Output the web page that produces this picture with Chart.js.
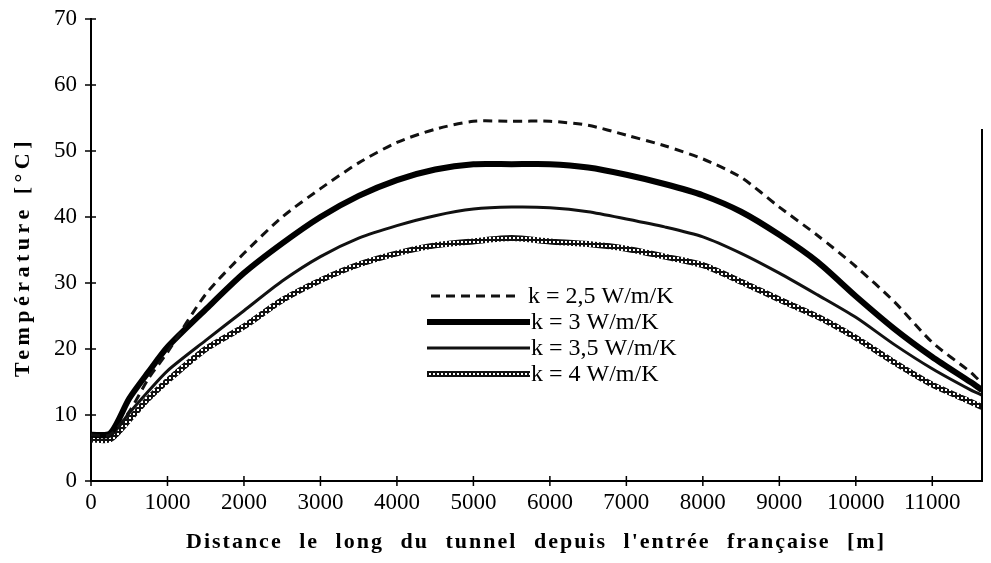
<!DOCTYPE html>
<html>
<head>
<meta charset="utf-8">
<script src="https://cdn.jsdelivr.net/npm/chart.js@4.4.0/dist/chart.umd.min.js"></script>
<style>
html,body{margin:0;padding:0;background:#fff;}
#wrap{width:991px;height:563px;}
</style>
</head>
<body>
<div id="wrap"><canvas id="myChart" width="991" height="563"></canvas></div>
<script>
// distance along the tunnel [m]
var distances = [0, 250, 500, 750, 1000, 1500, 2000, 2500, 3000, 3500, 4000, 4500, 5000, 5500, 6000, 6500, 7000, 7500, 8000, 8500, 9000, 9500, 10000, 10500, 11000, 11500, 11650];
// temperatures [°C]
var k25 = [7, 7, 10.5, 15.5, 19.5, 28.3, 34.5, 40, 44.3, 48.2, 51.3, 53.3, 54.5, 54.5, 54.5, 53.9, 52.4, 50.8, 48.8, 46, 41.5, 37.2, 32.5, 27.2, 21, 16.5, 14.8];
var k3 = [7, 7.2, 12.5, 16.5, 20.3, 26, 31.5, 36, 40, 43.2, 45.6, 47.2, 48, 48, 48, 47.5, 46.4, 45, 43.3, 40.8, 37.3, 33.2, 28, 23.1, 18.8, 15, 13.8];
var k35 = [6.8, 6.8, 10.3, 13.6, 16.7, 21.3, 25.8, 30.3, 34, 36.8, 38.7, 40.2, 41.2, 41.5, 41.4, 40.8, 39.7, 38.5, 37, 34.5, 31.5, 28.2, 24.8, 20.7, 17, 13.8, 13];
var k4 = [6.3, 6.3, 9.3, 12.5, 15.2, 20, 23.4, 27.4, 30.4, 32.8, 34.5, 35.7, 36.3, 36.8, 36.3, 35.9, 35.2, 34, 32.7, 30.2, 27.5, 24.9, 21.7, 18, 14.6, 12, 11.2];
var seriesNames = ["k = 2,5 W/m/K", "k = 3 W/m/K", "k = 3,5 W/m/K", "k = 4 W/m/K"];
var xTicks = [0, 1000, 2000, 3000, 4000, 5000, 6000, 7000, 8000, 9000, 10000, 11000];
var yTicks = [0, 10, 20, 30, 40, 50, 60, 70];
var xTitle = "Distance le long du tunnel depuis l'entrée française [m]";
var yTitle = "Température [°C]";

var serif = "'Liberation Serif', 'DejaVu Serif', serif";

// little circles texture for the k = 4 curve
var pc = document.createElement("canvas");
pc.width = 4; pc.height = 4;
var pctx = pc.getContext("2d");
pctx.fillStyle = "#111";
pctx.fillRect(0, 0, 4, 4);
pctx.fillStyle = "#fff";
pctx.fillRect(1, 1, 2, 2);
var circlePattern = pctx.createPattern(pc, "repeat");

function pts(arr){
  var out = [];
  for (var i = 0; i < distances.length; i++) out.push({x: distances[i], y: arr[i]});
  return out;
}

var styles = [
  {color: "#111", width: 3, dash: [9, 6]},
  {color: "#000", width: 6, dash: []},
  {color: "#111", width: 3, dash: []},
  {color: circlePattern, width: 6, dash: []}
];

// words with some letter spacing, spread over a given width
function spreadWords(ctx, text, font, spacing, width){
  ctx.font = font;
  ctx.letterSpacing = spacing + "px";
  var words = text.split(" ");
  var total = 0;
  var ws = words.map(function(w){ var m = ctx.measureText(w).width; total += m; return m; });
  var gap = (width - total) / (words.length - 1);
  var x = -width / 2;
  for (var i = 0; i < words.length; i++){
    ctx.fillText(words[i], x, 0);
    x += ws[i] + gap;
  }
  ctx.letterSpacing = "0px";
}

var decoPlugin = {
  id: "deco",
  afterDraw: function(chart){
    var ctx = chart.ctx;
    var area = chart.chartArea;
    var xs = chart.scales.x, ys = chart.scales.y;
    ctx.save();
    ctx.strokeStyle = "#000";
    // right frame line
    ctx.lineWidth = 2;
    ctx.beginPath();
    ctx.moveTo(area.right, area.top + 110);
    ctx.lineTo(area.right, area.bottom);
    ctx.stroke();
    // ticks crossing the axes
    ctx.lineWidth = 1.5;
    ctx.beginPath();
    xTicks.forEach(function(v){
      var p = xs.getPixelForValue(v);
      ctx.moveTo(p, area.bottom - 5);
      ctx.lineTo(p, area.bottom + 5);
    });
    yTicks.forEach(function(v){
      var p = ys.getPixelForValue(v);
      ctx.moveTo(area.left - 6, p);
      ctx.lineTo(area.left + 5, p);
    });
    ctx.stroke();
    // axis titles
    ctx.fillStyle = "#000";
    ctx.textBaseline = "middle";
    ctx.textAlign = "left";
    ctx.save();
    ctx.translate(536, 542);
    spreadWords(ctx, xTitle, "bold 22px " + serif, 2, 700);
    ctx.restore();
    ctx.save();
    ctx.translate(23, 257);
    ctx.rotate(-Math.PI / 2);
    spreadWords(ctx, yTitle, "bold 22px " + serif, 4.5, 240);
    ctx.restore();
    // legend inside the plot
    var rows = [296, 322, 348, 374];
    ctx.font = "24px " + serif;
    ctx.textBaseline = "middle";
    for (var i = 0; i < 4; i++){
      var s = styles[i];
      ctx.strokeStyle = s.color;
      ctx.lineWidth = s.width;
      ctx.setLineDash(s.dash);
      ctx.beginPath();
      ctx.moveTo(i == 0 ? 431 : 427, rows[i]);
      ctx.lineTo(i == 0 ? 520 : 530, rows[i]);
      ctx.stroke();
      ctx.setLineDash([]);
      ctx.fillText(seriesNames[i], i == 0 ? 528 : 531, rows[i] + 1);
    }
    ctx.restore();
  }
};

var sets = [k25, k3, k35, k4];
var datasets = [];
for (var i = 0; i < 4; i++){
  datasets.push({
    label: seriesNames[i],
    data: pts(sets[i]),
    borderColor: styles[i].color,
    borderWidth: styles[i].width,
    borderDash: styles[i].dash,
    pointRadius: 0,
    tension: 0.25,
    fill: false
  });
}

new Chart("myChart", {
  type: "line",
  data: {datasets: datasets},
  options: {
    responsive: false,
    animation: false,
    layout: {padding: {left: 0, right: 9, top: 19, bottom: 0}},
    plugins: {legend: {display: false}, tooltip: {enabled: false}},
    scales: {
      x: {
        type: "linear",
        min: 0,
        max: 11650,
        afterFit: function(s){ s.height = 82; },
        afterBuildTicks: function(s){ s.ticks = xTicks.map(function(v){ return {value: v}; }); },
        ticks: {color: "#000", font: {family: serif, size: 23}, padding: 8, maxRotation: 0, autoSkip: false,
          callback: function(v){ return String(v); }},
        grid: {drawOnChartArea: false, drawTicks: false},
        border: {color: "#000", width: 2}
      },
      y: {
        min: 0,
        max: 70,
        afterFit: function(s){ s.width = 91; s.paddingTop = 0; },
        afterBuildTicks: function(s){ s.ticks = yTicks.map(function(v){ return {value: v}; }); },
        ticks: {color: "#000", font: {family: serif, size: 23, lineHeight: 0.7}, padding: 14},
        grid: {drawOnChartArea: false, drawTicks: false},
        border: {color: "#000", width: 2}
      }
    }
  },
  plugins: [decoPlugin]
});
</script>
</body>
</html>
